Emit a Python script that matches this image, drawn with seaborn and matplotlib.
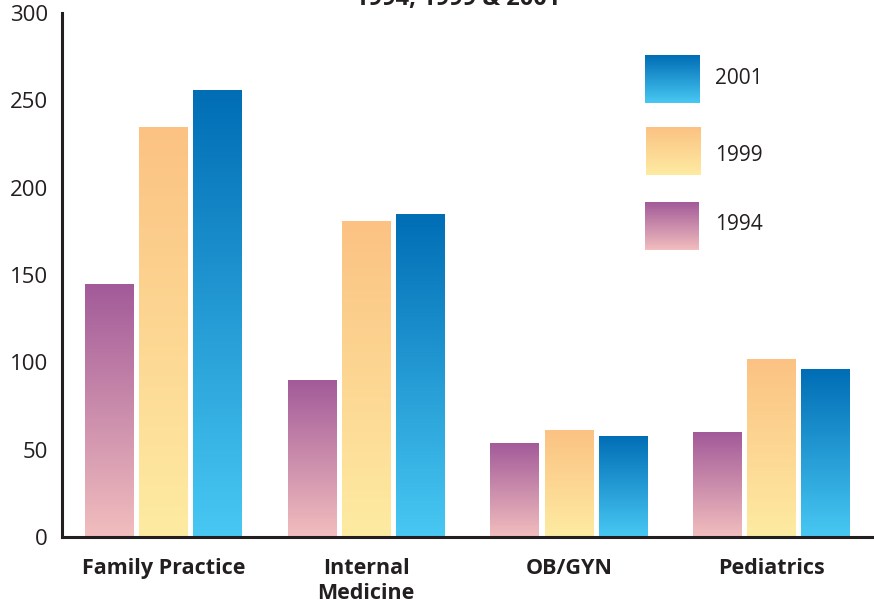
import numpy as np
import pandas as pd
import seaborn as sns
import matplotlib.pyplot as plt
from matplotlib.colors import LinearSegmentedColormap

# ---- data ----
categories = ["Family Practice", "Internal\nMedicine", "OB/GYN", "Pediatrics"]
years = ["1994", "1999", "2001"]
v1994 = [145, 90, 54, 60]
v1999 = [235, 181, 61, 102]
v2001 = [256, 185, 58, 96]
yticks = [0, 50, 100, 150, 200, 250, 300]
title_text = "1994, 1999 & 2001"

# gradient colours (bottom, top)
grad_colors = {
    "1994": ("#f2bebe", "#a25a99"),
    "1999": ("#feeba2", "#fbc283"),
    "2001": ("#48c8f3", "#006db5"),
}

rows = []
for yr, vals in zip(years, [v1994, v1999, v2001]):
    for c, v in zip(categories, vals):
        rows.append({"category": c, "year": yr, "value": v})
df = pd.DataFrame(rows)

sns.set_theme(style="white")
plt.rcParams["font.family"] = ["Open Sans", "DejaVu Sans"]
ink = "#231f20"

W, H = 874, 607
fig = plt.figure(figsize=(W / 100, H / 100), dpi=100)
ax = fig.add_axes([62 / W, 1 - 537 / H, (873 - 62) / W, (537 - 13) / H])

sns.barplot(data=df, x="category", y="value", hue="year", order=categories,
            hue_order=years, width=0.8, gap=0.1, ax=ax, legend=False,
            saturation=1, err_kws={"linewidth": 0})

grad = np.linspace(0, 1, 256).reshape(-1, 1)
for yr, cont in zip(years, ax.containers):
    cmap = LinearSegmentedColormap.from_list("g" + yr, list(grad_colors[yr]))
    for bar in cont:
        x0, y0 = bar.get_x(), bar.get_y()
        w, h = bar.get_width(), bar.get_height()
        bar.set_facecolor("none")
        bar.set_edgecolor("none")
        im = ax.imshow(grad, extent=[x0, x0 + w, y0, y0 + h], origin="lower",
                       cmap=cmap, aspect="auto", zorder=2, interpolation="bilinear")
        im.set_clip_path(bar)

ax.set_xlim(-0.5, 3.5)
ax.set_ylim(0, 300)
ax.set_xlabel("")
ax.set_ylabel("")

for s in ["top", "right"]:
    ax.spines[s].set_visible(False)
for s in ["left", "bottom"]:
    ax.spines[s].set_linewidth(2.2)
    ax.spines[s].set_color(ink)
    ax.spines[s].set_zorder(5)

ax.set_yticks(yticks)
ax.set_yticklabels([str(t) for t in yticks])
ax.tick_params(axis="y", direction="in", length=14, width=2, color=ink,
               labelsize=16, labelcolor=ink, pad=10)
ax.set_xticks(range(len(categories)))
ax.set_xticklabels(categories, fontweight="bold", fontsize=15.5, color=ink,
                   linespacing=1.25)
ax.set_xticks([0.5, 1.5, 2.5, 3.5], minor=True)
ax.tick_params(axis="x", which="major", length=0, pad=15)
ax.tick_params(axis="x", which="minor", direction="in", length=10, width=1.6,
               color=ink)
ax.grid(False)

# partially cut-off title (as in the reference)
fig.text(458 / W, 1 - 5 / H, title_text, ha="center", va="baseline",
         fontsize=17, fontweight="bold", color=ink)

# legend swatches with gradients
legend_pos = {"2001": (645, 55, 55, 48, 79),
              "1999": (646, 127, 55, 48, 155),
              "1994": (645, 202, 54, 48, 224)}
for yr in ["2001", "1999", "1994"]:
    lx, ly, lw, lh, ty = legend_pos[yr]
    cmap = LinearSegmentedColormap.from_list("l" + yr, list(grad_colors[yr]))
    lax = fig.add_axes([lx / W, 1 - (ly + lh) / H, lw / W, lh / H])
    lax.imshow(grad, origin="lower", cmap=cmap, aspect="auto")
    lax.set_axis_off()
    fig.text(715 / W, 1 - ty / H, yr, ha="left", va="center", fontsize=15,
             color=ink)

fig.savefig("out.png", dpi=100, facecolor="white")
